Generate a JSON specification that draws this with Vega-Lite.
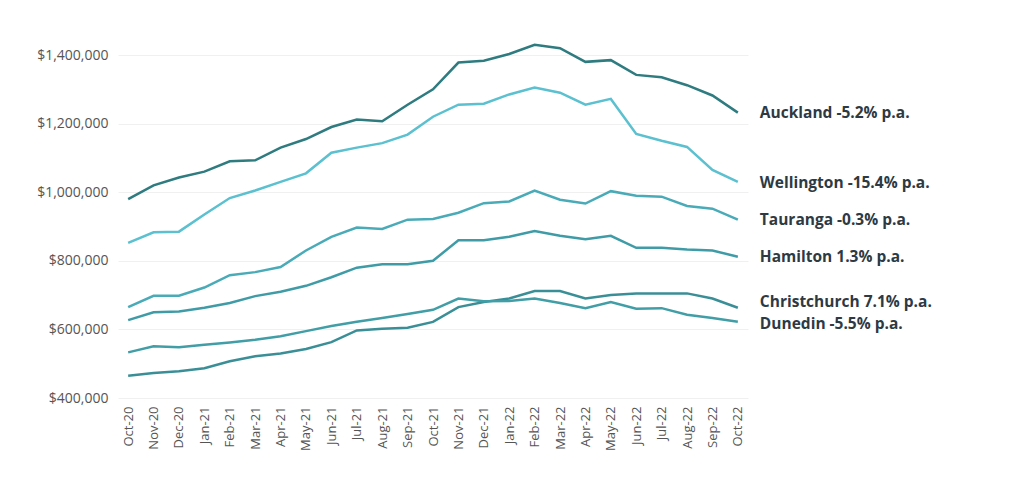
{
  "$schema": "https://vega.github.io/schema/vega-lite/v6.json",
  "width": 630,
  "height": 343,
  "autosize": {"type": "none"},
  "padding": {"left": 118, "top": 55, "right": 276, "bottom": 83},
  "background": "white",
  "view": {"stroke": null},
  "datasets": {
    "labels": [
      {"city": "Auckland", "month": "Oct-22", "value": 1232000, "label": "Auckland -5.2% p.a."},
      {"city": "Wellington", "month": "Oct-22", "value": 1027000, "label": " Wellington -15.4% p.a."},
      {"city": "Tauranga", "month": "Oct-22", "value": 920000, "label": "Tauranga -0.3% p.a."},
      {"city": "Hamilton", "month": "Oct-22", "value": 810000, "label": "Hamilton 1.3% p.a."},
      {"city": "Christchurch", "month": "Oct-22", "value": 680000, "label": "Christchurch 7.1% p.a."},
      {"city": "Dunedin", "month": "Oct-22", "value": 615000, "label": "Dunedin -5.5% p.a."}
    ]
  },
  "data": {
    "values": [
      {"month":"Oct-20","Auckland":980000,"Wellington":852000,"Tauranga":665000,"Hamilton":627000,"Dunedin":533000,"Christchurch":465000},
      {"month":"Nov-20","Auckland":1020000,"Wellington":883000,"Tauranga":698000,"Hamilton":650000,"Dunedin":551000,"Christchurch":473000},
      {"month":"Dec-20","Auckland":1043000,"Wellington":885000,"Tauranga":698000,"Hamilton":652000,"Dunedin":548000,"Christchurch":478000},
      {"month":"Jan-21","Auckland":1060000,"Wellington":935000,"Tauranga":722000,"Hamilton":663000,"Dunedin":555000,"Christchurch":487000},
      {"month":"Feb-21","Auckland":1090000,"Wellington":983000,"Tauranga":758000,"Hamilton":677000,"Dunedin":562000,"Christchurch":507000},
      {"month":"Mar-21","Auckland":1093000,"Wellington":1005000,"Tauranga":767000,"Hamilton":697000,"Dunedin":570000,"Christchurch":522000},
      {"month":"Apr-21","Auckland":1130000,"Wellington":1030000,"Tauranga":782000,"Hamilton":710000,"Dunedin":580000,"Christchurch":530000},
      {"month":"May-21","Auckland":1155000,"Wellington":1055000,"Tauranga":830000,"Hamilton":727000,"Dunedin":595000,"Christchurch":543000},
      {"month":"Jun-21","Auckland":1190000,"Wellington":1115000,"Tauranga":870000,"Hamilton":752000,"Dunedin":610000,"Christchurch":563000},
      {"month":"Jul-21","Auckland":1212000,"Wellington":1130000,"Tauranga":897000,"Hamilton":780000,"Dunedin":622000,"Christchurch":597000},
      {"month":"Aug-21","Auckland":1207000,"Wellington":1143000,"Tauranga":893000,"Hamilton":790000,"Dunedin":633000,"Christchurch":602000},
      {"month":"Sep-21","Auckland":1255000,"Wellington":1168000,"Tauranga":920000,"Hamilton":790000,"Dunedin":645000,"Christchurch":605000},
      {"month":"Oct-21","Auckland":1300000,"Wellington":1220000,"Tauranga":922000,"Hamilton":800000,"Dunedin":657000,"Christchurch":622000},
      {"month":"Nov-21","Auckland":1378000,"Wellington":1255000,"Tauranga":940000,"Hamilton":860000,"Dunedin":690000,"Christchurch":665000},
      {"month":"Dec-21","Auckland":1383000,"Wellington":1258000,"Tauranga":968000,"Hamilton":860000,"Dunedin":682000,"Christchurch":680000},
      {"month":"Jan-22","Auckland":1403000,"Wellington":1285000,"Tauranga":973000,"Hamilton":870000,"Dunedin":683000,"Christchurch":690000},
      {"month":"Feb-22","Auckland":1430000,"Wellington":1305000,"Tauranga":1005000,"Hamilton":887000,"Dunedin":690000,"Christchurch":712000},
      {"month":"Mar-22","Auckland":1420000,"Wellington":1290000,"Tauranga":978000,"Hamilton":873000,"Dunedin":677000,"Christchurch":712000},
      {"month":"Apr-22","Auckland":1380000,"Wellington":1255000,"Tauranga":967000,"Hamilton":863000,"Dunedin":662000,"Christchurch":690000},
      {"month":"May-22","Auckland":1385000,"Wellington":1272000,"Tauranga":1003000,"Hamilton":873000,"Dunedin":680000,"Christchurch":700000},
      {"month":"Jun-22","Auckland":1342000,"Wellington":1170000,"Tauranga":990000,"Hamilton":838000,"Dunedin":660000,"Christchurch":705000},
      {"month":"Jul-22","Auckland":1335000,"Wellington":1150000,"Tauranga":987000,"Hamilton":838000,"Dunedin":662000,"Christchurch":705000},
      {"month":"Aug-22","Auckland":1312000,"Wellington":1132000,"Tauranga":960000,"Hamilton":833000,"Dunedin":643000,"Christchurch":705000},
      {"month":"Sep-22","Auckland":1282000,"Wellington":1065000,"Tauranga":952000,"Hamilton":830000,"Dunedin":633000,"Christchurch":690000},
      {"month":"Oct-22","Auckland":1232000,"Wellington":1030000,"Tauranga":920000,"Hamilton":812000,"Dunedin":622000,"Christchurch":663000}
    ]
  },
  "layer": [
    {
      "transform": [{"fold": ["Auckland","Wellington","Tauranga","Hamilton","Christchurch","Dunedin"], "as": ["city","value"]}],
      "mark": {"type": "line", "strokeWidth": 2.5},
      "encoding": {
        "x": {"field": "month", "type": "ordinal", "sort": null,
          "scale": {"type": "point", "padding": 0.4},
          "axis": {"title": null, "labelAngle": -90, "labelFont": "Open Sans", "labelFontSize": 13, "labelColor": "#555", "domain": false, "ticks": false, "labelPadding": 8}},
        "y": {"field": "value", "type": "quantitative",
          "scale": {"domain": [400000, 1400000], "nice": false, "zero": false},
          "axis": {"title": null, "tickCount": 5, "format": "$,.0f", "labelFont": "Open Sans", "labelFontSize": 14, "labelColor": "#555", "domain": false, "ticks": false, "labelPadding": 10, "gridColor": "#f0f0f0"}},
        "color": {"field": "city", "type": "nominal", "legend": null,
          "scale": {"domain": ["Auckland","Wellington","Tauranga","Hamilton","Christchurch","Dunedin"],
            "range": ["#2e7b80","#5bc0cf","#4aabb8","#3f9ca7","#3a8f97","#419ea6"]}},
        "detail": {"field": "city"}
      }
    },
    {
      "data": {"name": "labels"},
      "mark": {"type": "text", "align": "left", "dx": 22, "font": "Open Sans", "fontWeight": "bold", "fontSize": 15.5, "color": "#2d3a44"},
      "encoding": {
        "x": {"field": "month", "type": "ordinal", "sort": null},
        "y": {"field": "value", "type": "quantitative"},
        "text": {"field": "label"}
      }
    }
  ]
}
